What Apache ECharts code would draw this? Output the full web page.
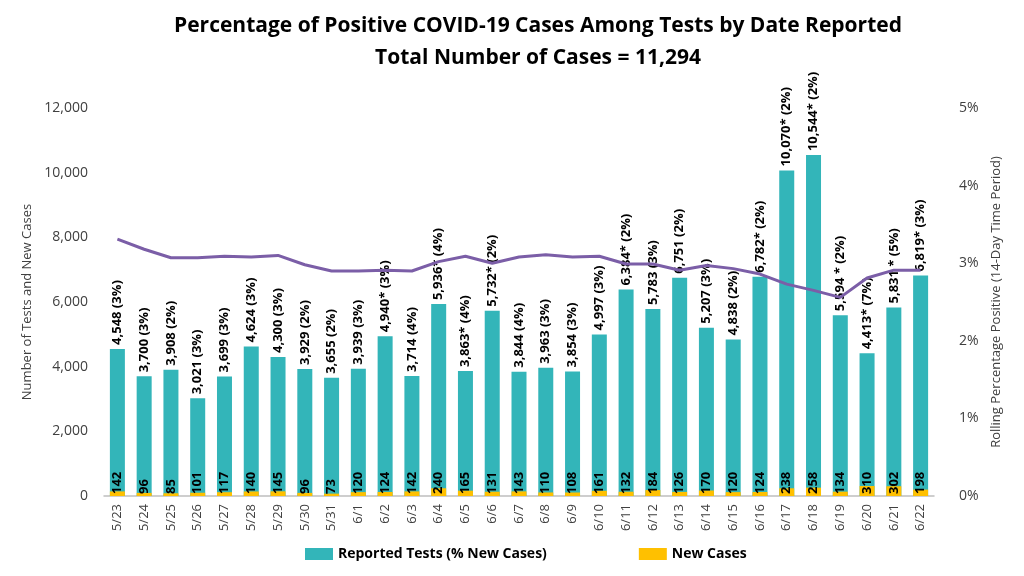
<!DOCTYPE html>
<html><head><meta charset="utf-8">
<script src="https://cdn.jsdelivr.net/npm/echarts@6/dist/echarts.min.js"></script>
<style>html,body{margin:0;padding:0;background:#fff}#c{width:1024px;height:576px}</style>
</head><body><div id="c"></div>
<script>
const dates = ["5/23","5/24","5/25","5/26","5/27","5/28","5/29","5/30","5/31","6/1","6/2","6/3","6/4","6/5","6/6","6/7","6/8","6/9","6/10","6/11","6/12","6/13","6/14","6/15","6/16","6/17","6/18","6/19","6/20","6/21","6/22"];
const tests = [4548,3700,3908,3021,3699,4624,4300,3929,3655,3939,4940,3714,5936,3863,5732,3844,3963,3854,4997,6384,5783,6751,5207,4838,6782,10070,10544,5594,4413,5831,6819];
const newCases = [142,96,85,101,117,140,145,96,73,120,124,142,240,165,131,143,110,108,161,132,184,126,170,120,124,238,258,134,310,302,198];
const asterisk = ["","","","","","","","","","","*","","*","*","*","","","","","*","","","","","*","*","*"," *","*"," *","*"];
const rollingPct = [3.31,3.18,3.07,3.07,3.09,3.08,3.10,2.98,2.90,2.90,2.91,2.90,3.02,3.09,3.00,3.08,3.11,3.08,3.09,2.99,2.99,2.91,2.97,2.93,2.86,2.73,2.65,2.56,2.81,2.91,2.91];
const leftTicks = {min:0,max:12000,interval:2000};
const rightTicks = {min:0,max:5,interval:1};

const FONT = "'Open Sans', 'Liberation Sans', sans-serif";
const fmt = n => n.toLocaleString('en-US');
const chart = echarts.init(document.getElementById('c'));
chart.setOption({
  animation:false,
  textStyle:{fontFamily:FONT},
  title:{
    text:"Percentage of Positive COVID-19 Cases Among Tests by Date Reported\nTotal Number of Cases = 11,294",
    left:533, top:5, textAlign:'center',
    textStyle:{fontFamily:FONT,fontSize:21,fontWeight:'bold',color:'#000',lineHeight:32}
  },
  legend:{
    data:["Reported Tests (% New Cases)","New Cases"],
    left:300, top:542, itemWidth:28, itemHeight:12, itemGap:92,
    icon:'rect',
    textStyle:{fontFamily:FONT,fontSize:14,fontWeight:'bold',color:'#000'}
  },
  grid:{left:104,right:90,top:108,bottom:80},
  xAxis:{
    type:'category', data:dates,
    axisLine:{lineStyle:{color:'#bfbfbf',width:1.5}},
    axisTick:{show:false},
    axisLabel:{rotate:90,fontSize:13,color:'#404040',fontFamily:FONT,margin:8}
  },
  yAxis:[{
    type:'value', min:leftTicks.min, max:leftTicks.max, interval:leftTicks.interval,
    name:'Number of Tests and New Cases', nameLocation:'middle', nameGap:66, nameRotate:90,
    nameTextStyle:{fontSize:13,color:'#404040',fontFamily:FONT},
    axisLine:{show:false}, axisTick:{show:false}, splitLine:{show:false},
    axisLabel:{fontSize:14,color:'#404040',margin:16,fontFamily:FONT,formatter:v=>fmt(v)}
  },{
    type:'value', min:rightTicks.min, max:rightTicks.max, interval:rightTicks.interval,
    name:'Rolling Percentage Positive (14-Day Time Period)', nameLocation:'middle', nameGap:46, nameRotate:90,
    nameTextStyle:{fontSize:13,color:'#404040',fontFamily:FONT},
    axisLine:{show:false}, axisTick:{show:false}, splitLine:{show:false},
    axisLabel:{fontSize:14,color:'#404040',margin:25,fontFamily:FONT,formatter:'{value}%'}
  }],
  series:[{
    name:"Reported Tests (% New Cases)", type:'bar', data:tests, barWidth:15,
    itemStyle:{color:'#33b5b9'},
    label:{show:true,position:'top',rotate:90,align:'left',verticalAlign:'middle',distance:4,
      fontSize:13,fontWeight:'bold',color:'#000',fontFamily:FONT,
      formatter:p=>fmt(p.value)+asterisk[p.dataIndex]+' ('+Math.round(newCases[p.dataIndex]/p.value*100)+'%)'}
  },{
    name:"New Cases", type:'bar', data:newCases, barWidth:15, barGap:'-100%',
    itemStyle:{color:'#ffc000'},
    label:{show:true,position:'insideBottom',rotate:90,align:'left',verticalAlign:'middle',distance:2,
      fontSize:13,fontWeight:'bold',color:'#000',fontFamily:FONT}
  },{
    name:"Rolling", type:'line', yAxisIndex:1, data:rollingPct, showSymbol:false, symbol:'none',
    lineStyle:{color:'#7b5ea7',width:3}, z:5
  }]
});
</script></body></html>
